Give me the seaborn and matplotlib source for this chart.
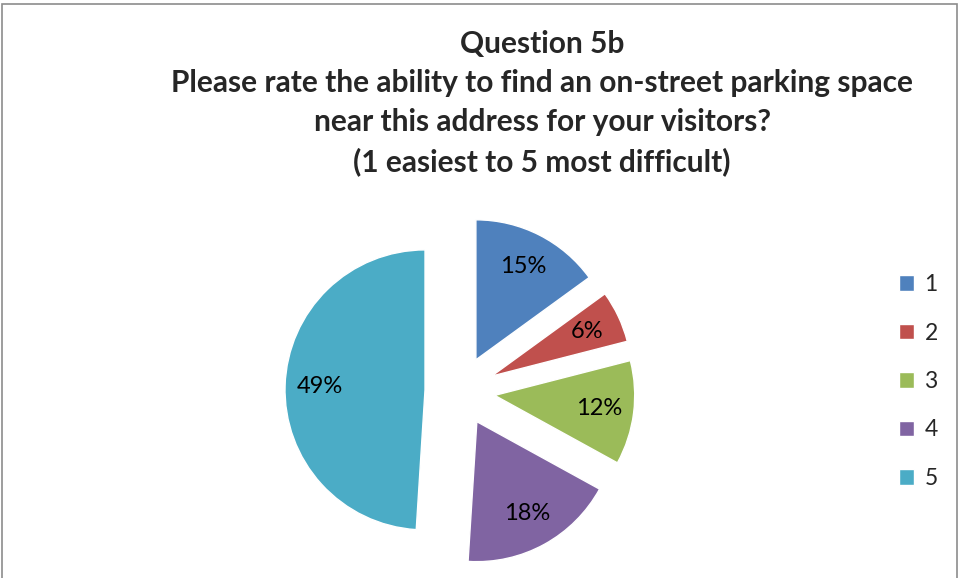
import matplotlib.pyplot as plt
import seaborn as sns
from matplotlib.patches import Rectangle

# data
ratings = ['1', '2', '3', '4', '5']
shares = [15, 6, 12, 18, 49]
colors = ['#4F81BD', '#C0504D', '#9BBB59', '#8064A2', '#4BACC6']
title = ('Question 5b\n'
         'Please rate the ability to find an on-street parking space\n'
         'near this address for your visitors?\n'
         '(1 easiest to 5 most difficult)')

sns.set_theme(style='white')
plt.rcParams['font.family'] = ['Lato', 'DejaVu Sans']

fig = plt.figure(figsize=(9.6, 5.78), dpi=100)

# pie axes: 140 px per unit, pie centre at (460, 391) px from top-left
W, H = 960, 578
px = 140
cx, cy = 460, H - 391
x0, x1, y0, y1 = -1.5, 1.5, -1.33, 1.5
ax = fig.add_axes([(cx + x0 * px) / W, (cy + y0 * px) / H,
                   (x1 - x0) * px / W, (y1 - y0) * px / H])
wedges, texts, autotexts = ax.pie(
    shares, colors=colors, explode=[0.25] * 5, startangle=90,
    counterclock=False, autopct='%1.0f%%', pctdistance=0.75,
    textprops={'fontsize': 17, 'color': 'black'})
ax.set_xlim(x0, x1)
ax.set_ylim(y0, y1)
ax.set_aspect('equal')
ax.axis('off')

fig.text(542 / W, 1 - 30 / H, title, ha='center', va='top', fontsize=21.5,
         fontweight='bold', linespacing=1.47)

fig.legend(wedges, ratings, loc='center left',
           bbox_to_anchor=(899 / W, (H - 381.5) / H), frameon=False,
           fontsize=16.5, handlelength=0.66, handleheight=0.66,
           handletextpad=0.45, labelspacing=1.2, borderpad=0, borderaxespad=0)

fig.patches.append(Rectangle((2 / W, -0.05), 955 / W, 1.05 - 4 / H,
                             transform=fig.transFigure, fill=False,
                             edgecolor='#8c8c8c', linewidth=1.2))

fig.savefig('out.png', dpi=100)
